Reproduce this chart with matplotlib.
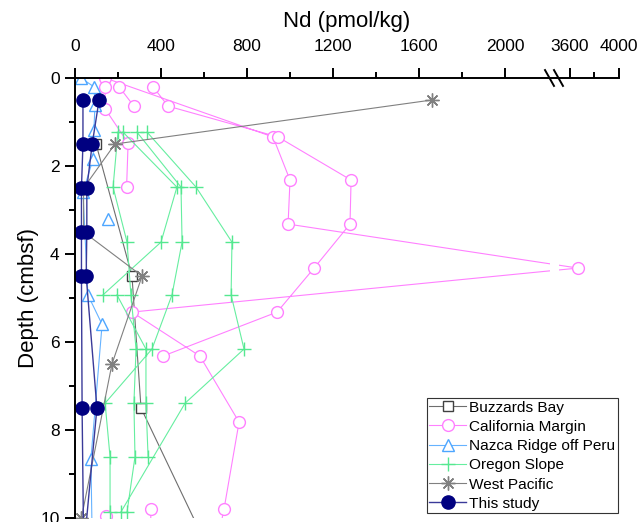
import numpy as np
import matplotlib
matplotlib.use('Agg')
import matplotlib.pyplot as plt

plt.rcParams['font.family'] = ['Liberation Sans', 'DejaVu Sans']

nan = np.nan

# ---------------- data (Nd in pmol/kg, depth in cmbsf) ----------------
bb_nd = [98, 265, 307, 600]
bb_depth = [1.5, 4.5, 7.5, 10.5]

ca_nd = [140, 921, 1000, 991, 3665, 265, 581, 763, 693, 650, nan,
         140, 140, 247, 240, nan,
         205, 274, nan,
         363, 433, 944, 1284, 1279, 1112, 940, 409, nan,
         353, 350, nan,
         144, 150]
ca_depth = [0.0, 1.34, 2.32, 3.32, 4.32, 5.32, 6.32, 7.82, 9.8, 10.8, nan,
            0.2, 0.7, 1.48, 2.47, nan,
            0.2, 0.64, nan,
            0.2, 0.64, 1.34, 2.32, 3.32, 4.32, 5.32, 6.32, nan,
            9.8, 10.8, nan,
            9.95, 11.0]

nz_nd = [28, 88, 93, 88, 84, 37, 60, 126, 74, 80, nan, 153]
nz_depth = [0.0, 0.2, 0.61, 1.18, 1.84, 2.6, 4.93, 5.6, 8.66, 10.5, nan, 3.2]

or_nd = [200, 177, 242, 260, 284, 274, 279, 242, nan,
         223, 474, 400, 130, nan,
         288, 493, 498, 451, 358, 140, 163, 163, nan,
         335, 563, 730, 726, 786, 512, 214, nan,
         195, 330, 330, 340]
or_depth = [1.23, 2.48, 3.73, 4.93, 6.16, 7.39, 8.61, 9.86, nan,
            1.23, 2.48, 3.73, 4.93, nan,
            1.23, 2.48, 3.73, 4.93, 6.16, 7.39, 8.61, 9.86, nan,
            1.23, 2.48, 3.73, 4.93, 6.16, 7.39, 9.86, nan,
            4.93, 6.16, 7.39, 8.61]

wp_nd = [1660, 186, 40, 40, 312, 172, 30]
wp_depth = [0.5, 1.5, 2.5, 3.5, 4.5, 6.5, 10.0]

ts_nd = [37, 37, 30, 30, 30, 33, 40, nan,
         112, 80, 55, 55, 52, 102, 45]
ts_depth = [0.5, 1.5, 2.5, 3.5, 4.5, 7.5, 10.5, nan,
            0.5, 1.5, 2.5, 3.5, 4.5, 7.5, 10.5]

x_major = [0, 400, 800, 1200, 1600, 2000, 3600, 4000]
x_minor = [200, 600, 1000, 1400, 1800, 3800]
y_major = [0, 2, 4, 6, 8, 10]
y_minor = [1, 3, 5, 7, 9]

# ---------------- broken x scale ----------------
BRK_A, BRK_B = 2209.0, 3510.0
K1 = 1.0
K2 = 0.1225 / 0.215
UA = BRK_A * K1
UB = UA + 9 / 0.215


def fwd(x):
    x = np.asarray(x, dtype=float)
    mid = UA + (x - BRK_A) * (UB - UA) / (BRK_B - BRK_A)
    return np.where(x < BRK_A, x * K1, np.where(x < BRK_B, mid, UB + (x - BRK_B) * K2))


def inv(u):
    u = np.asarray(u, dtype=float)
    mid = BRK_A + (u - UA) * (BRK_B - BRK_A) / (UB - UA)
    return np.where(u < UA, u / K1, np.where(u < UB, mid, BRK_B + (u - UB) / K2))


W, H = 641, 522
fig = plt.figure(figsize=(W / 100, H / 100), dpi=100)
ax = fig.add_axes([75 / W, 4 / H, 544 / W, 440 / H])
ax.set_xscale('function', functions=(fwd, inv))

lw = 0.8
ax.plot(bb_nd, bb_depth, color='#6e6e6e', lw=lw, marker='s', ms=7,
        mfc='white', mec='#404040', mew=1.0, label='Buzzards Bay')
ax.plot(ca_nd, ca_depth, color='#ff80ff', lw=lw, marker='o', ms=8.5,
        mfc='white', mec='#ff80ff', mew=1.0, label='California Margin')
ax.plot(nz_nd, nz_depth, color='#66b3ff', lw=lw, marker='^', ms=9,
        mfc='white', mec='#4da6ff', mew=1.0, label='Nazca Ridge off Peru')
ax.plot(or_nd, or_depth, color='#66eea0', lw=lw, marker='+', ms=10,
        mec='#55e890', mew=1.0, label='Oregon Slope')
ax.plot(wp_nd, wp_depth, color='#808080', lw=lw, marker=(8, 2, 0), ms=10,
        mec='#808080', mew=1.0, label='West Pacific')
ax.plot(ts_nd, ts_depth, color='#3a3a99', lw=1.0, marker='o', ms=9.5,
        mfc='#000080', mec='#000080', label='This study')

# gap of the broken axis
ax.axvspan(BRK_A, BRK_B, color='white', zorder=2.4, lw=0)

ax.set_xlim(0, 4000)
ax.set_ylim(10, 0)

ax.spines['right'].set_visible(False)
ax.spines['bottom'].set_visible(False)
for s in ('top', 'left'):
    ax.spines[s].set_linewidth(1.4)

ax.xaxis.tick_top()
ax.xaxis.set_label_position('top')
ax.set_xticks(x_major)
ax.set_xticks(x_minor, minor=True)
ax.set_yticks(y_major)
ax.set_yticks(y_minor, minor=True)
ax.tick_params(axis='both', which='major', direction='out', length=7, width=1.4, labelsize=12.5)
ax.tick_params(axis='both', which='minor', direction='out', length=4, width=1.4)
ax.tick_params(axis='x', which='both', top=True, bottom=False, pad=10)
ax.tick_params(axis='y', pad=4)

ax.set_xlabel('Nd (pmol/kg)', fontsize=16, labelpad=9)
ax.set_ylabel('Depth (cmbsf)', fontsize=16, labelpad=1)

# break marks on the top axis
for x0 in (0.864, 0.8805):
    ax.plot([x0, x0 + 0.0165], [1.018, 0.982], transform=ax.transAxes,
            color='black', lw=1.4, clip_on=False, zorder=5)

leg = ax.legend(loc='lower right', bbox_to_anchor=(0.998, 0.011), borderaxespad=0,
                fontsize=11.1, frameon=True, fancybox=False, framealpha=1,
                edgecolor='#333333', handlelength=2.4, handletextpad=0.2,
                labelspacing=0.34, borderpad=0.15, numpoints=1)
leg.get_frame().set_linewidth(0.8)

fig.savefig('out.png', dpi=100)
